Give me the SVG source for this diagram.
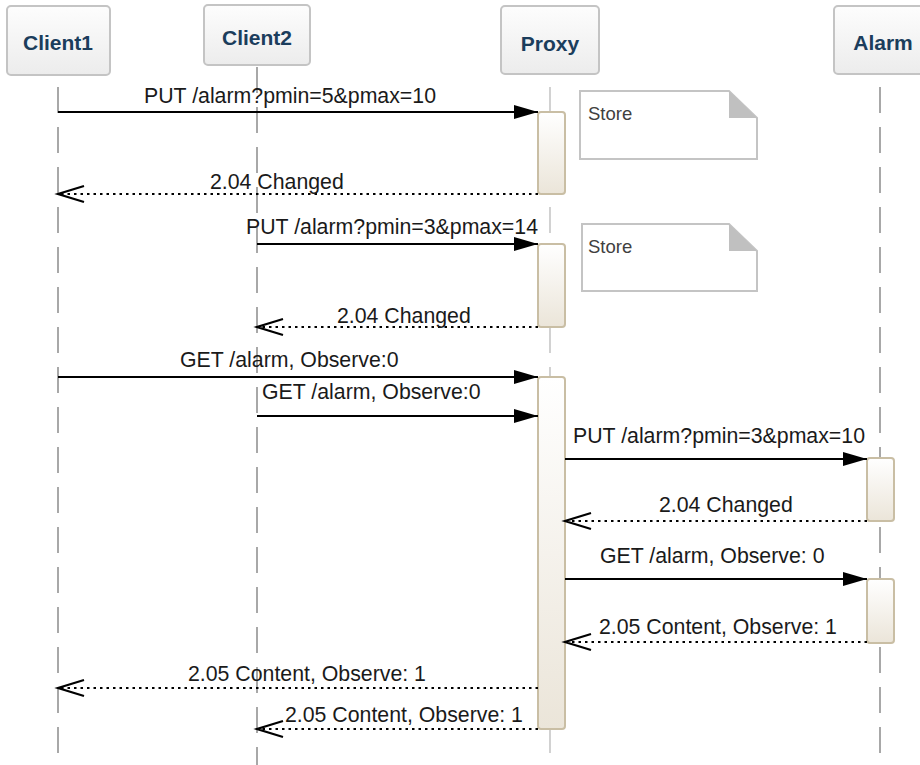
<svg xmlns="http://www.w3.org/2000/svg" width="920" height="765" viewBox="0 0 920 765">
  <defs>
    <linearGradient id="headFill" x1="0" y1="0" x2="0" y2="1">
      <stop offset="0" stop-color="#fdfdfd"/>
      <stop offset="1" stop-color="#ececec"/>
    </linearGradient>
    <linearGradient id="actFill" x1="0" y1="0" x2="0" y2="1">
      <stop offset="0" stop-color="#ffffff"/>
      <stop offset="1" stop-color="#ebe5d9"/>
    </linearGradient>
    <marker id="solidHead" markerUnits="userSpaceOnUse" markerWidth="26" markerHeight="16" refX="24" refY="7" orient="auto" overflow="visible">
      <path d="M0,0 L24,7 L0,14 Z" fill="#000"/>
    </marker>
    <marker id="openHead" markerUnits="userSpaceOnUse" markerWidth="28" markerHeight="18" refX="26" refY="8" orient="auto" overflow="visible">
      <path d="M0,0 L26,8 L0,16" fill="none" stroke="#000" stroke-width="2.2"/>
    </marker>
  </defs>
  <style>
    .head { fill: url(#headFill); stroke: #c4c4c4; stroke-width: 2; }
    .headText { font-family: "Liberation Sans", Arial, sans-serif; font-weight: bold; font-size: 21px; fill: #1b3d5c; text-anchor: middle; }
    .life { stroke: #a8a8a8; stroke-width: 2; stroke-dasharray: 26 14; fill: none; }
    .lifeThin { stroke: #b4b4b4; stroke-width: 1.2; stroke-dasharray: 26 14; fill: none; }
    .act { fill: url(#actFill); stroke: #c9bea4; stroke-width: 2; }
    .note { fill: #ffffff; stroke: #c4c4c4; stroke-width: 2; }
    .fold { fill: #c0c0c0; stroke: none; }
    .noteText { font-family: "Liberation Sans", Arial, sans-serif; font-size: 18.5px; fill: #404040; }
    .call { stroke: #000; stroke-width: 2; fill: none; marker-end: url(#solidHead); }
    .reply { stroke: #000; stroke-width: 2.2; stroke-dasharray: 2.5 4; fill: none; marker-end: url(#openHead); }
    .msg { font-family: "Liberation Sans", Arial, sans-serif; font-size: 21.3px; fill: #1a1a1a; }
  </style>

  <rect width="920" height="765" fill="#ffffff"/>

  <!-- lifelines -->
  <g id="lifelines">
    <line class="life" x1="58" y1="87" x2="58" y2="753"/>
    <line class="life" x1="257" y1="67" x2="257" y2="765"/>
    <line class="lifeThin" x1="550" y1="87" x2="550" y2="753"/>
    <line class="life" x1="880" y1="87" x2="880" y2="753"/>
  </g>

  <!-- participants -->
  <g id="client1">
    <rect class="head" x="7" y="6" width="103" height="69" rx="4"/>
    <text class="headText" x="58" y="50">Client1</text>
  </g>
  <g id="client2">
    <rect class="head" x="204" y="5" width="106" height="60" rx="4"/>
    <text class="headText" x="257" y="45">Client2</text>
  </g>
  <g id="proxy">
    <rect class="head" x="501" y="6" width="98" height="68" rx="4"/>
    <text class="headText" x="550" y="51">Proxy</text>
  </g>
  <g id="alarm">
    <rect class="head" x="834" y="6" width="98" height="68" rx="4"/>
    <text class="headText" x="883" y="50">Alarm</text>
  </g>

  <!-- activation bars -->
  <g id="proxy-activations">
    <rect class="act" x="538" y="112" width="27" height="82" rx="3"/>
    <rect class="act" x="538" y="244" width="27" height="83" rx="3"/>
    <rect class="act" x="538" y="377" width="27" height="352" rx="3"/>
  </g>
  <g id="alarm-activations">
    <rect class="act" x="867" y="458" width="27" height="63" rx="3"/>
    <rect class="act" x="867" y="579" width="27" height="64" rx="3"/>
  </g>

  <!-- notes -->
  <g id="note-store-1">
    <path class="note" d="M580,91 H729 L757,118 V159 H580 Z"/>
    <path class="fold" d="M729,91 V118 H757 Z"/>
    <text class="noteText" x="588" y="120">Store</text>
  </g>
  <g id="note-store-2">
    <path class="note" d="M582,224 H729 L757,251 V291 H582 Z"/>
    <path class="fold" d="M729,224 V251 H757 Z"/>
    <text class="noteText" x="588" y="253">Store</text>
  </g>

  <!-- messages -->
  <g id="connectors">
    <line class="call" x1="58" y1="112" x2="538" y2="112"/>
    <text class="msg" x="144" y="103">PUT /alarm?pmin=5&amp;pmax=10</text>

    <line class="reply" x1="538" y1="194" x2="58" y2="194"/>
    <text class="msg" x="210" y="189">2.04 Changed</text>

    <line class="call" x1="257" y1="244" x2="538" y2="244"/>
    <text class="msg" x="246" y="234">PUT /alarm?pmin=3&amp;pmax=14</text>

    <line class="reply" x1="538" y1="327" x2="257" y2="327"/>
    <text class="msg" x="337" y="323">2.04 Changed</text>

    <line class="call" x1="58" y1="377" x2="538" y2="377"/>
    <text class="msg" x="180" y="367">GET /alarm, Observe:0</text>

    <line class="call" x1="257" y1="416" x2="538" y2="416"/>
    <text class="msg" x="262" y="399">GET /alarm, Observe:0</text>

    <line class="call" x1="565" y1="459" x2="867" y2="459"/>
    <text class="msg" x="573" y="443">PUT /alarm?pmin=3&amp;pmax=10</text>

    <line class="reply" x1="867" y1="521" x2="565" y2="521"/>
    <text class="msg" x="659" y="512">2.04 Changed</text>

    <line class="call" x1="565" y1="579" x2="867" y2="579"/>
    <text class="msg" x="600" y="563">GET /alarm, Observe: 0</text>

    <line class="reply" x1="867" y1="642" x2="565" y2="642"/>
    <text class="msg" x="599" y="634">2.05 Content, Observe: 1</text>

    <line class="reply" x1="538" y1="688" x2="58" y2="688"/>
    <text class="msg" x="188" y="681">2.05 Content, Observe: 1</text>

    <line class="reply" x1="538" y1="729" x2="257" y2="729"/>
    <text class="msg" x="285" y="722">2.05 Content, Observe: 1</text>
  </g>
</svg>
